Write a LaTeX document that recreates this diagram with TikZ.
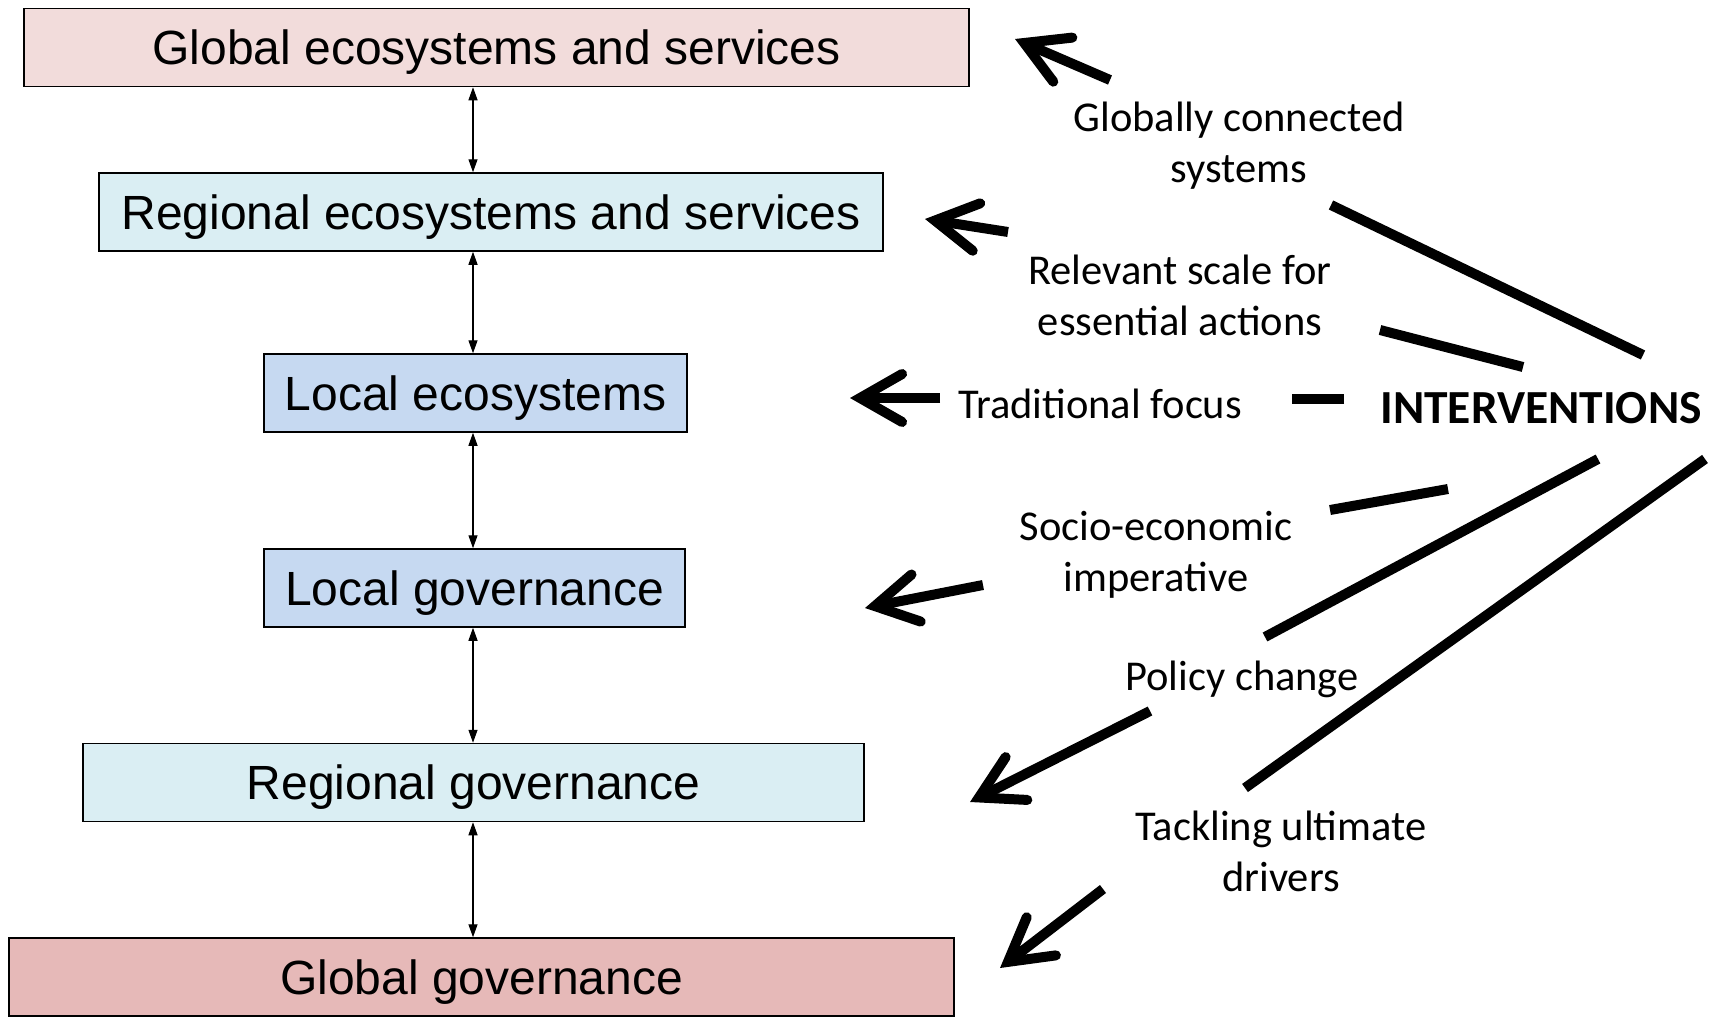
\documentclass[tikz,border=0pt]{standalone}
\usepackage{fontspec}
\usetikzlibrary{arrows.meta}
\newfontfamily\arialf{Liberation Sans}
\newfontfamily\calf{Carlito}
\definecolor{pinkA}{HTML}{F2DCDB}
\definecolor{blueA}{HTML}{DAEEF3}
\definecolor{blueB}{HTML}{C6D9F1}
\definecolor{pinkB}{HTML}{E6B9B8}
\begin{document}
\begin{tikzpicture}[x=1pt,y=-1pt,
  levelbox/.style={draw=black,line width=1.5pt,inner sep=0pt,minimum height=78pt,
     text height=34pt,text depth=0pt,
     font=\fontsize{48}{52}\selectfont\arialf},
  vlink/.style={line width=1.3pt,{Triangle[length=13pt,width=9pt]}-{Triangle[length=13pt,width=9pt]}},
  thickline/.style={line width=10pt},
  bigarrow/.style={line width=10pt,-{Straight Barb[length=42pt,width=48pt,line cap=round,line join=miter]}},
  lab/.style={font=\fontsize{42.5}{51}\selectfont\calf,inner sep=0pt,align=center}]
\useasboundingbox (0,0) rectangle (1710,1017);
% level boxes
\node[levelbox,fill=pinkA,minimum width=945pt] (b1) at (496.5,47.5) {Global ecosystems and services};
\node[levelbox,fill=blueA,minimum width=784pt] (b2) at (491,212) {Regional ecosystems and services};
\node[levelbox,fill=blueB,minimum width=423pt] (b3) at (475.5,393) {Local ecosystems};
\node[levelbox,fill=blueB,minimum width=421pt] (b4) at (474.5,588) {Local governance};
\node[levelbox,fill=blueA,minimum width=781pt] (b5) at (473.5,782.5) {Regional governance};
\node[levelbox,fill=pinkB,minimum width=945pt] (b6) at (481.5,977) {Global governance};
\coordinate (ax) at (473,0);
\draw[vlink] (b1.south -| ax) -- (b2.north -| ax);
\draw[vlink] (b2.south -| ax) -- (b3.north -| ax);
\draw[vlink] (b3.south -| ax) -- (b4.north -| ax);
\draw[vlink] (b4.south -| ax) -- (b5.north -| ax);
\draw[vlink] (b5.south -| ax) -- (b6.north -| ax);
% labels
\node[lab] (l1) at (1239,146) {Globally connected\\systems};
\node[lab] (l2) at (1180,295.5) {Relevant scale for\\essential actions};
\node[lab,anchor=base] (l3) at (1100,418) {Traditional focus};
\node[lab,anchor=base,font=\fontsize{47.5}{51}\selectfont\calf\bfseries] (int) at (1541,423) {INTERVENTIONS};
\node[lab] (l4) at (1156,555) {Socio-economic\\imperative};
\node[lab,anchor=base] (l5) at (1242,690) {Policy change};
\node[lab] (l6) at (1281,851) {Tackling ultimate\\drivers};
% intervention lines
\coordinate (i1) at (1643,355); \coordinate (a1) at (1331,205);
\coordinate (i2) at (1523,367); \coordinate (a2) at (1380,330);
\coordinate (i3) at (1344,399); \coordinate (a3) at (1292,399);
\coordinate (i4) at (1448,489); \coordinate (a4) at (1330,510);
\coordinate (i5) at (1598,459); \coordinate (a5) at (1265,637);
\coordinate (i6) at (1705,459); \coordinate (a6) at (1245,788);
\draw[thickline] (i1) -- (a1);
\draw[thickline] (i2) -- (a2);
\draw[thickline] (i3) -- (a3);
\draw[thickline] (i4) -- (a4);
\draw[thickline] (i5) -- (a5);
\draw[thickline] (i6) -- (a6);
% arrows to levels
\coordinate (s1) at (1110,80);  \coordinate (t1) at (1015,39);
\coordinate (s2) at (1008,232); \coordinate (t2) at (925,219);
\coordinate (s3) at (940,398);  \coordinate (t3) at (850,398);
\coordinate (s4) at (983,585);  \coordinate (t4) at (865,608);
\coordinate (s5) at (1150,711); \coordinate (t5) at (970,802);
\coordinate (s6) at (1103,889); \coordinate (t6) at (1000,968);
\draw[bigarrow] (s1) -- (t1);
\draw[bigarrow] (s2) -- (t2);
\draw[bigarrow] (s3) -- (t3);
\draw[bigarrow] (s4) -- (t4);
\draw[bigarrow] (s5) -- (t5);
\draw[bigarrow] (s6) -- (t6);
\end{tikzpicture}
\end{document}
